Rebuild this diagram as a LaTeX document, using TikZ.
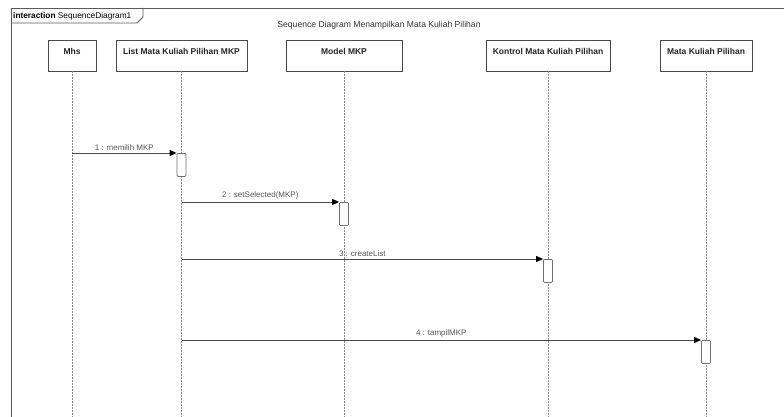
\documentclass[tikz,border=0pt]{standalone}
\usepackage{fontspec}
\setmainfont{Liberation Sans}
\usetikzlibrary{arrows.meta,shadows}
\definecolor{frameline}{HTML}{5A5A5A}
\definecolor{boxline}{HTML}{4A4A4A}
\definecolor{lifegray}{HTML}{8A8A8A}
\definecolor{msgline}{HTML}{4A4A4A}
\definecolor{labelgray}{HTML}{555555}
\tikzset{
  head/.style={draw=boxline, line width=0.9pt, fill=white, minimum height=31pt,
    inner sep=0pt, drop shadow={opacity=0.25, shadow xshift=0.8pt, shadow yshift=-0.8pt}},
  headtext/.style={font=\fontsize{8.5}{10}\selectfont\bfseries, text=black!85},
  lifeline/.style={draw=lifegray, line width=0.7pt, dash pattern=on 1.5pt off 1.5pt},
  act/.style={draw=boxline!80, line width=0.8pt, fill=white, rounded corners=1pt,
    minimum width=9pt, minimum height=23pt, inner sep=0pt},
  msg/.style={draw=msgline, line width=1pt, -{Triangle[length=7pt,width=6pt,color=black]}},
  msglabel/.style={font=\fontsize{8}{9}\selectfont, text=labelgray, inner sep=2pt},
}
\begin{document}
\begin{tikzpicture}[x=1pt,y=-1pt]
  \useasboundingbox (0,0) rectangle (784,417);
  \fill[white] (0,0) rectangle (784,417);

  % interaction frame and its name tab
  \draw[frameline, line width=0.9pt] (784,8) -- (11,8) -- (11,420);
  \draw[frameline, line width=0.9pt] (11,23) -- (137,23) -- (143,17) -- (143,8);
  \node[anchor=west, inner sep=0pt, font=\fontsize{8.3}{9}\selectfont] (tab) at (13,16)
    {\textbf{interaction} SequenceDiagram1};

  \node[font=\fontsize{8.6}{10}\selectfont, text=black!80] (title) at (379,25)
    {Sequence Diagram Menampilkan Mata Kuliah Pilihan};

  % lifeline heads
  \node[head, minimum width=48pt] (mhs) at (72,55.5) {};
  \node[head, minimum width=131pt] (list) at (181.5,55.5) {};
  \node[head, minimum width=116pt] (model) at (344,55.5) {};
  \node[head, minimum width=124pt] (kontrol) at (548,55.5) {};
  \node[head, minimum width=92pt] (mkp) at (706,55.5) {};

  \node[headtext] at (72,51) {Mhs};
  \node[headtext] at (181.5,51) {List Mata Kuliah Pilihan MKP};
  \node[headtext] at (344,51) {Model MKP};
  \node[headtext] at (548,51) {Kontrol Mata Kuliah Pilihan};
  \node[headtext] at (706,51) {Mata Kuliah Pilihan};

  % lifeline ends below the page edge
  \coordinate (mhsend) at (72,420);
  \coordinate (listend) at (181.5,420);
  \coordinate (modelend) at (344,420);
  \coordinate (kontrolend) at (548,420);
  \coordinate (mkpend) at (706,420);

  \draw[lifeline] (mhs.south) -- (mhsend);
  \draw[lifeline] (list.south) -- (listend);
  \draw[lifeline] (model.south) -- (modelend);
  \draw[lifeline] (kontrol.south) -- (kontrolend);
  \draw[lifeline] (mkp.south) -- (mkpend);

  % activation bars
  \node[act, anchor=north] (a1) at (181.5,153) {};
  \node[act, anchor=north] (a2) at (344,202) {};
  \node[act, anchor=north] (a3) at (548,259) {};
  \node[act, anchor=north] (a4) at (706,340) {};

  % messages
  \draw[msg] (mhs |- a1.north) -- node[msglabel, above] {1 : memilih MKP} (a1.north west);
  \draw[msg] (list |- a2.north) -- node[msglabel, above] {2 : setSelected(MKP)} (a2.north west);
  \draw[msg] (list |- a3.north) -- node[msglabel, above] {3 : createList} (a3.north west);
  \draw[msg] (list |- a4.north) -- node[msglabel, above] {4 : tampilMKP} (a4.north west);
\end{tikzpicture}
\end{document}
